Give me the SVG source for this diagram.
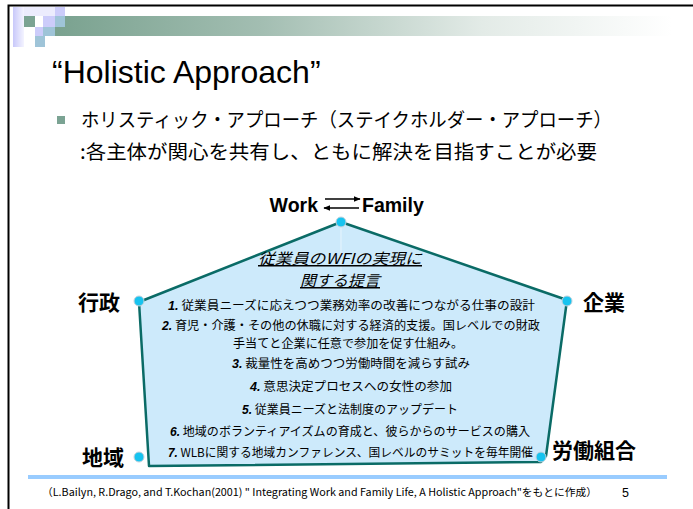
<svg xmlns="http://www.w3.org/2000/svg" width="693" height="509" viewBox="0 0 693 509">
<defs>
<linearGradient id="bar" x1="0" y1="0" x2="1" y2="0">
<stop offset="0" stop-color="#77a08d"/>
<stop offset="0.35" stop-color="#a3beb2"/>
<stop offset="0.7" stop-color="#e3ebe7"/>
<stop offset="1" stop-color="#ffffff"/>
</linearGradient>
<linearGradient id="lav" x1="0" y1="0" x2="1" y2="0">
<stop offset="0" stop-color="#c8c8fa"/>
<stop offset="1" stop-color="#f4f4ff"/>
</linearGradient>
<marker id="ah" viewBox="0 0 10 10" refX="9" refY="5" markerWidth="7" markerHeight="7" orient="auto" markerUnits="userSpaceOnUse">
<path d="M0,1 L10,5 L0,9 Z" fill="#000"/>
</marker>
<style>
.jp{font-family:"Noto Sans CJK JP","Liberation Sans",sans-serif;}
.lat{font-family:"Liberation Sans",Arial,sans-serif;}
.lbl{font-family:"Noto Sans CJK JP",sans-serif;font-weight:bold;font-size:21px;fill:#000;}
.item{font-family:"Noto Sans CJK JP","Liberation Sans",sans-serif;font-size:12px;fill:#000;text-anchor:middle;}
.num{font-family:"Liberation Sans",Arial,sans-serif;font-weight:bold;font-style:italic;}
.dot{fill:#17c3ef;stroke:#c5d3dc;stroke-width:1;}
</style>
</defs>
<rect width="693" height="509" fill="#fff"/>
<!-- frame -->
<path d="M8.5,509 L8.5,5.5 L693,5.5" fill="none" stroke="#000" stroke-width="2"/>
<!-- header decoration -->
<g id="header">
<rect x="42" y="16" width="630" height="20" fill="url(#bar)"/>
<rect x="13" y="7" width="11" height="40" fill="url(#lav)"/>
<rect x="24" y="7" width="31" height="9" fill="#ececfd"/>
<rect x="55" y="7" width="10" height="9" fill="#ccccfa"/>
<rect x="24" y="16" width="11" height="11" fill="#7ba393"/>
<rect x="35" y="16" width="8" height="11" fill="#ffffff"/>
<rect x="43" y="16" width="12" height="11" fill="#ccccfa"/>
<rect x="55" y="16" width="10" height="11" fill="#9fc4d8"/>
<rect x="35" y="27" width="8" height="9" fill="#ccccfa"/>
<rect x="43" y="27" width="12" height="9" fill="#9fc4d8"/>
<rect x="35" y="36" width="10" height="11" fill="#9fc4d8"/>
</g>
<!-- title -->
<text id="title" x="52" y="83" class="lat" font-size="32" fill="#000">“Holistic Approach”</text>
<g id="bullet">
<rect x="57" y="116" width="8" height="8" fill="#7ba393"/>
<text x="81" y="127" class="jp" font-size="19.5" fill="#000" textLength="531" lengthAdjust="spacingAndGlyphs">ホリスティック・アプローチ（ステイクホルダー・アプローチ）</text>
<text x="80" y="159" class="jp" font-size="19.5" fill="#000" textLength="517" lengthAdjust="spacingAndGlyphs">:各主体が関心を共有し、ともに解決を目指すことが必要</text>
</g>
<!-- work family -->
<g id="workfamily">
<text x="318" y="212" class="lat" font-size="19.5" font-weight="bold" text-anchor="end">Work</text>
<text x="362" y="212" class="lat" font-size="19.5" font-weight="bold">Family</text>
</g>
<g id="connectors">
<line x1="325" y1="199" x2="360" y2="199" stroke="#000" stroke-width="1.5" marker-end="url(#ah)"/>
<line x1="359" y1="208" x2="324" y2="208" stroke="#000" stroke-width="1.5" marker-end="url(#ah)"/>
</g>
<!-- pentagon -->
<g id="proposal">
<path d="M341,222 L567,300 L546,456 L541,462 L149,466 L139,302 Z" fill="#cdeafb" stroke="#0a6b66" stroke-width="2.5" stroke-linejoin="round"/>
<line x1="341" y1="227" x2="341" y2="282" stroke="#e6f4fd" stroke-width="1"/>
<text x="340" y="264" class="jp" font-size="15" font-style="italic" text-anchor="middle" text-decoration="underline" textLength="164" lengthAdjust="spacingAndGlyphs">従業員のWFIの実現に</text>
<text x="340" y="286" class="jp" font-size="15" font-style="italic" text-anchor="middle" text-decoration="underline" textLength="80" lengthAdjust="spacingAndGlyphs">関する提言</text>
<text x="351.5" y="309.5" class="item" textLength="367" lengthAdjust="spacingAndGlyphs"><tspan class="num">1.</tspan> 従業員ニーズに応えつつ業務効率の改善につながる仕事の設計</text>
<text x="351" y="330" class="item" textLength="378" lengthAdjust="spacingAndGlyphs"><tspan class="num">2.</tspan> 育児・介護・その他の休職に対する経済的支援。国レベルでの財政</text>
<text x="348" y="347.5" class="item" textLength="230" lengthAdjust="spacingAndGlyphs">手当てと企業に任意で参加を促す仕組み。</text>
<text x="351" y="367.5" class="item" textLength="238" lengthAdjust="spacingAndGlyphs"><tspan class="num">3.</tspan> 裁量性を高めつつ労働時間を減らす試み</text>
<text x="351" y="390.5" class="item" textLength="202" lengthAdjust="spacingAndGlyphs"><tspan class="num">4.</tspan> 意思決定プロセスへの女性の参加</text>
<text x="350" y="413.5" class="item" textLength="216" lengthAdjust="spacingAndGlyphs"><tspan class="num">5.</tspan> 従業員ニーズと法制度のアップデート</text>
<text x="350" y="435.5" class="item" textLength="360" lengthAdjust="spacingAndGlyphs"><tspan class="num">6.</tspan> 地域のボランティアイズムの育成と、彼らからのサービスの購入</text>
<text x="350.5" y="456.5" class="item" textLength="365" lengthAdjust="spacingAndGlyphs"><tspan class="num">7.</tspan> WLBに関する地域カンファレンス、国レベルのサミットを毎年開催</text>
</g>
<g id="top-dot"><circle cx="341" cy="222" r="5" class="dot"/></g>
<g id="gyousei"><circle cx="139" cy="301" r="5" class="dot"/><text x="78" y="310" class="lbl">行政</text></g>
<g id="kigyou"><circle cx="567" cy="301" r="5" class="dot"/><text x="583" y="310" class="lbl">企業</text></g>
<g id="chiiki"><circle cx="139" cy="457" r="5" class="dot"/><text x="82" y="465" class="lbl">地域</text></g>
<g id="roudou"><circle cx="541" cy="457" r="5" class="dot"/><text x="552" y="458" class="lbl">労働組合</text></g>
<!-- footer -->
<g id="footer">
<rect x="28" y="475" width="639" height="4" fill="#99ccff"/>
<text x="42" y="496" class="jp" font-size="10.5" fill="#000" textLength="555" lengthAdjust="spacingAndGlyphs">（L.Bailyn, R.Drago, and T.Kochan(2001) " Integrating Work and Family Life, A Holistic Approach"をもとに作成）</text>
<text x="622" y="497" class="lat" font-size="12.5" fill="#000">5</text>
</g>
</svg>
